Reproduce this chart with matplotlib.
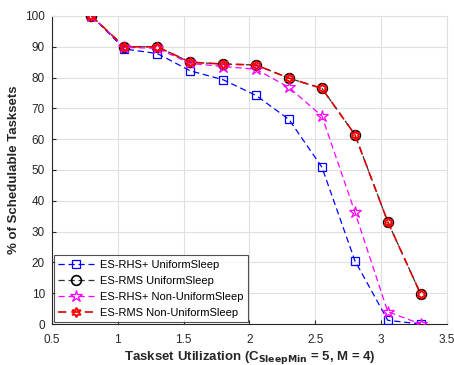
import matplotlib
matplotlib.use("Agg")
import matplotlib.pyplot as plt
import numpy as np

utilization = [0.8, 1.05, 1.3, 1.55, 1.8, 2.05, 2.3, 2.55, 2.8, 3.05, 3.3]
rhs_uniform = [100, 89.3, 87.8, 82.2, 79.3, 74.2, 66.4, 50.9, 20.6, 1.2, 0]
rms_uniform = [100, 90, 90, 85, 84.4, 84.1, 79.8, 76.5, 61.5, 33.2, 9.7]
rhs_nonuniform = [100, 89.8, 89.5, 84.6, 83.6, 82.7, 76.8, 67.5, 36.4, 4.0, 0]
rms_nonuniform = [100, 90, 90, 85, 84.4, 84.1, 79.8, 76.5, 61.5, 33.2, 9.7]
series_labels = ["ES-RHS+ UniformSleep", "ES-RMS UniformSleep",
                 "ES-RHS+ Non-UniformSleep", "ES-RMS Non-UniformSleep"]

plt.rcParams["font.family"] = ["Liberation Sans", "DejaVu Sans"]

fig = plt.figure(figsize=(4.54, 3.65), dpi=100)
ax = fig.add_axes([0.1145, 0.1123, 0.8701, 0.8439])

dash = (0, (5, 3))
ax.plot(utilization, rhs_uniform, color="#0000ff", linestyle=dash, lw=0.9,
        marker="s", markersize=6, markerfacecolor="none", markeredgecolor="#0000ff",
        markeredgewidth=0.9, label=series_labels[0], zorder=3)
ax.plot(utilization, rms_uniform, color="#333333", linestyle=dash, lw=0.9,
        marker="o", markersize=7, markerfacecolor="none", markeredgecolor="black",
        markeredgewidth=1.2, label=series_labels[1], zorder=4)
ax.plot(utilization, rhs_nonuniform, color="#ff00ff", linestyle=dash, lw=0.9,
        marker="*", markersize=9, markerfacecolor="none", markeredgecolor="#ff00ff",
        markeredgewidth=0.9, label=series_labels[2], zorder=5)
ax.plot(utilization, rms_nonuniform, color="#dd0000", linestyle=dash, lw=1.2,
        marker=(6, 1, 0), markersize=7, markerfacecolor="none", markeredgecolor="red",
        markeredgewidth=1.3, label=series_labels[3], zorder=6)

ax.set_xlim(0.5, 3.5)
ax.set_ylim(0, 100)
ax.set_xticks(np.arange(0.5, 3.51, 0.5))
ax.set_xticklabels(["0.5", "1", "1.5", "2", "2.5", "3", "3.5"])
ax.set_yticks(np.arange(0, 101, 10))
ax.grid(True, color="#e0e0e0", linewidth=0.8)
ax.set_axisbelow(True)
for side in ["top", "right"]:
    ax.spines[side].set_color("#e0e0e0")
for side in ["left", "bottom"]:
    ax.spines[side].set_color("#262626")
ax.tick_params(direction="in", length=3, labelsize=8.5, colors="#262626")
ax.tick_params(axis="x", pad=7)
ax.tick_params(axis="y", pad=5)

ax.set_ylabel("% of Schedulable Tasksets", fontsize=9.5, fontweight="bold", color="#262626")
ax.set_xlabel(r"Taskset Utilization (C$_{\mathbf{SleepMin}}$ = 5, M = 4)",
              fontsize=9.5, fontweight="bold", color="#262626", labelpad=2)

leg = ax.legend(loc="lower left", fontsize=8.0, frameon=True, fancybox=False,
                edgecolor="#262626", borderpad=0.4, labelspacing=0.55,
                handlelength=3.2, handletextpad=0.6, borderaxespad=0.15)
leg.get_frame().set_linewidth(0.8)

fig.savefig("out.png", dpi=100)
